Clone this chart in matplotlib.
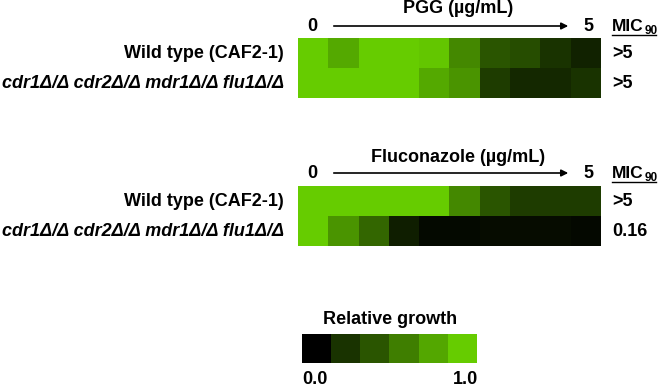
import numpy as np
import matplotlib
matplotlib.use("Agg")
import matplotlib.pyplot as plt
from matplotlib.colors import LinearSegmentedColormap

# ---- data ----
strains = ["Wild type (CAF2-1)", "cdr1\u0394/\u0394 cdr2\u0394/\u0394 mdr1\u0394/\u0394 flu1\u0394/\u0394"]
pgg_growth = [
    [1.00, 0.83, 1.00, 1.00, 0.97, 0.67, 0.42, 0.38, 0.25, 0.17],
    [1.00, 1.00, 1.00, 1.00, 0.83, 0.73, 0.30, 0.20, 0.20, 0.25],
]
flu_growth = [
    [1.00, 1.00, 1.00, 1.00, 1.00, 0.67, 0.42, 0.30, 0.30, 0.30],
    [1.00, 0.73, 0.50, 0.15, 0.05, 0.05, 0.06, 0.06, 0.06, 0.04],
]
pgg_mic = [">5", ">5"]
flu_mic = [">5", "0.16"]
legend_levels = [0.0, 0.25, 0.42, 0.62, 0.82, 1.0]
conc_min, conc_max = "0", "5"

cmap = LinearSegmentedColormap.from_list("grow", ["#000000", "#66CC00"])

W, H = 664, 389
fig = plt.figure(figsize=(W / 100, H / 100), dpi=100)
ax = fig.add_axes([0, 0, 1, 1])
ax.set_xlim(0, W)
ax.set_ylim(H, 0)
ax.axis("off")

FONT = "Liberation Sans"
FS = 13

def panel(data, title, mics, y_top, y_title, y_axis):
    x0, x1 = 298, 601
    ax.imshow(np.array(data), cmap=cmap, vmin=0, vmax=1, aspect="auto",
              extent=(x0, x1, y_top + 60, y_top), interpolation="nearest")
    ax.text(458, y_title, title, ha="center", va="center", fontsize=FS,
            fontweight="bold", family=FONT)
    ax.text(312, y_axis, conc_min, ha="center", va="center", fontsize=FS,
            fontweight="bold", family=FONT)
    ax.text(588, y_axis, conc_max, ha="center", va="center", fontsize=FS,
            fontweight="bold", family=FONT)
    ax.annotate("", xy=(571, y_axis), xytext=(331, y_axis),
                arrowprops=dict(arrowstyle="-|>", color="black", lw=1.2,
                                mutation_scale=10))
    ax.text(612, y_axis, "MIC", ha="left", va="center", fontsize=12.5,
            fontweight="bold", family=FONT)
    ax.text(645, y_axis + 5, "90", ha="left", va="center", fontsize=8.5,
            fontweight="bold", family=FONT)
    ax.plot([612, 656], [y_axis + 9, y_axis + 9], color="black", lw=1)
    for i, (lab, mic) in enumerate(zip(strains, mics)):
        yc = y_top + 15 + 30 * i
        ax.text(284, yc, lab, ha="right", va="center", fontsize=FS,
                fontweight="bold", family=FONT,
                style="normal" if i == 0 else "italic")
        ax.text(612, yc, mic, ha="left", va="center", fontsize=FS,
                fontweight="bold", family=FONT)

panel(pgg_growth, "PGG (\u00b5g/mL)", pgg_mic, 38, 8, 26)
panel(flu_growth, "Fluconazole (\u00b5g/mL)", flu_mic, 186, 157, 173)

# legend bar
ax.imshow(np.array([legend_levels]), cmap=cmap, vmin=0, vmax=1, aspect="auto",
          extent=(302, 477, 363, 334), interpolation="nearest")
ax.text(390, 319, "Relative growth", ha="center", va="center", fontsize=FS,
        fontweight="bold", family=FONT)
ax.text(302, 380, "0.0", ha="left", va="center", fontsize=FS,
        fontweight="bold", family=FONT)
ax.text(478, 380, "1.0", ha="right", va="center", fontsize=FS,
        fontweight="bold", family=FONT)

fig.savefig("out.png", dpi=100, facecolor="white")
